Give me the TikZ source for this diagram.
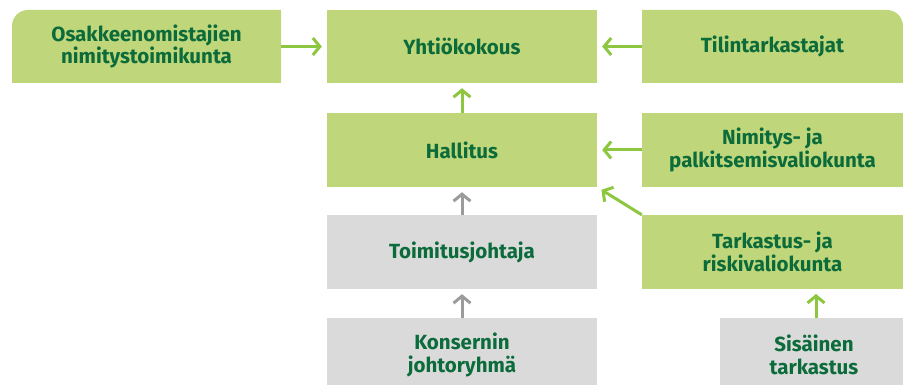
\documentclass[tikz,border=0pt]{standalone}
\usepackage{fontspec}
\setmainfont{Fira Sans}
\usetikzlibrary{arrows.meta}
\definecolor{boxgreen}{HTML}{BFD77A}
\definecolor{boxgrey}{HTML}{DADADA}
\definecolor{txtgreen}{HTML}{0B6B3A}
\definecolor{arrgreen}{HTML}{8DC63F}
\definecolor{arrgrey}{HTML}{9B9B9B}
\tikzset{
  box/.style={rectangle, inner sep=0pt, align=center, text=txtgreen,
    font=\fontsize{20.5}{22.5}\selectfont\bfseries},
  gbox/.style={box, fill=boxgreen},
  ybox/.style={box, fill=boxgrey},
  conn/.style={line width=3pt, -{Straight Barb[length=7pt,width=17pt,line width=3pt]}, shorten >=5pt},
  gconn/.style={conn, draw=arrgreen},
  yconn/.style={conn, draw=arrgrey}
}
\begin{document}
\begin{tikzpicture}[x=1pt,y=-1pt]
\useasboundingbox (0,0) rectangle (903,385);
% rounded boxes
\fill[boxgreen] (12,83) [rounded corners=16pt] -- (12,10) -- (150,10) [sharp corners] -- (281,10) -- (281,83) -- cycle;
\fill[boxgreen] (642,83) -- (642,10) -- (780,10) [rounded corners=16pt] -- (903,10) [sharp corners] -- (903,83) -- cycle;
\node[box, minimum width=269pt, minimum height=73pt] (osak) at (146.5,46.5) {Osakkeenomistajien\\nimitystoimikunta};
\node[box, minimum width=261pt, minimum height=73pt] (tili) at (772.5,46.5) {Tilintarkastajat};
% plain boxes
\node[gbox, minimum width=270pt, minimum height=73pt] (yht) at (462,46.5) {Yhtiökokous};
\node[gbox, minimum width=270pt, minimum height=74pt] (hal) at (462,150) {Hallitus};
\node[gbox, minimum width=261pt, minimum height=74pt] (nim) at (772.5,150) {Nimitys- ja\\palkitsemisvaliokunta};
\node[ybox, minimum width=270pt, minimum height=74pt] (toim) at (462,252) {Toimitusjohtaja};
\node[gbox, minimum width=261pt, minimum height=74pt] (tark) at (772.5,252) {Tarkastus- ja\\riskivaliokunta};
\fill[boxgrey] (327,318) rectangle (597,385);
\fill[boxgrey] (720,318) rectangle (903,385);
\node[box, minimum width=270pt, minimum height=74pt] (kons) at (462,355) {Konsernin\\johtoryhmä};
\node[box, minimum width=183pt, minimum height=74pt] (sis) at (814,355) {Sisäinen\\tarkastus};
\coordinate (sisTop) at (816,318);
\coordinate (tarkBot) at (816,289);
% connectors
\draw[gconn] (osak.east) -- (yht.west);
\draw[gconn] (tili.west) -- (yht.east);
\draw[gconn] (hal.north) -- (yht.south);
\draw[gconn] (nim.west) -- (hal.east);
\draw[gconn] (tark.north west) -- (hal.south east);
\draw[yconn] (toim.north) -- (hal.south);
\draw[yconn] (462,318) -- (toim.south);
\draw[gconn] (sisTop) -- (tarkBot);
\end{tikzpicture}
\end{document}
